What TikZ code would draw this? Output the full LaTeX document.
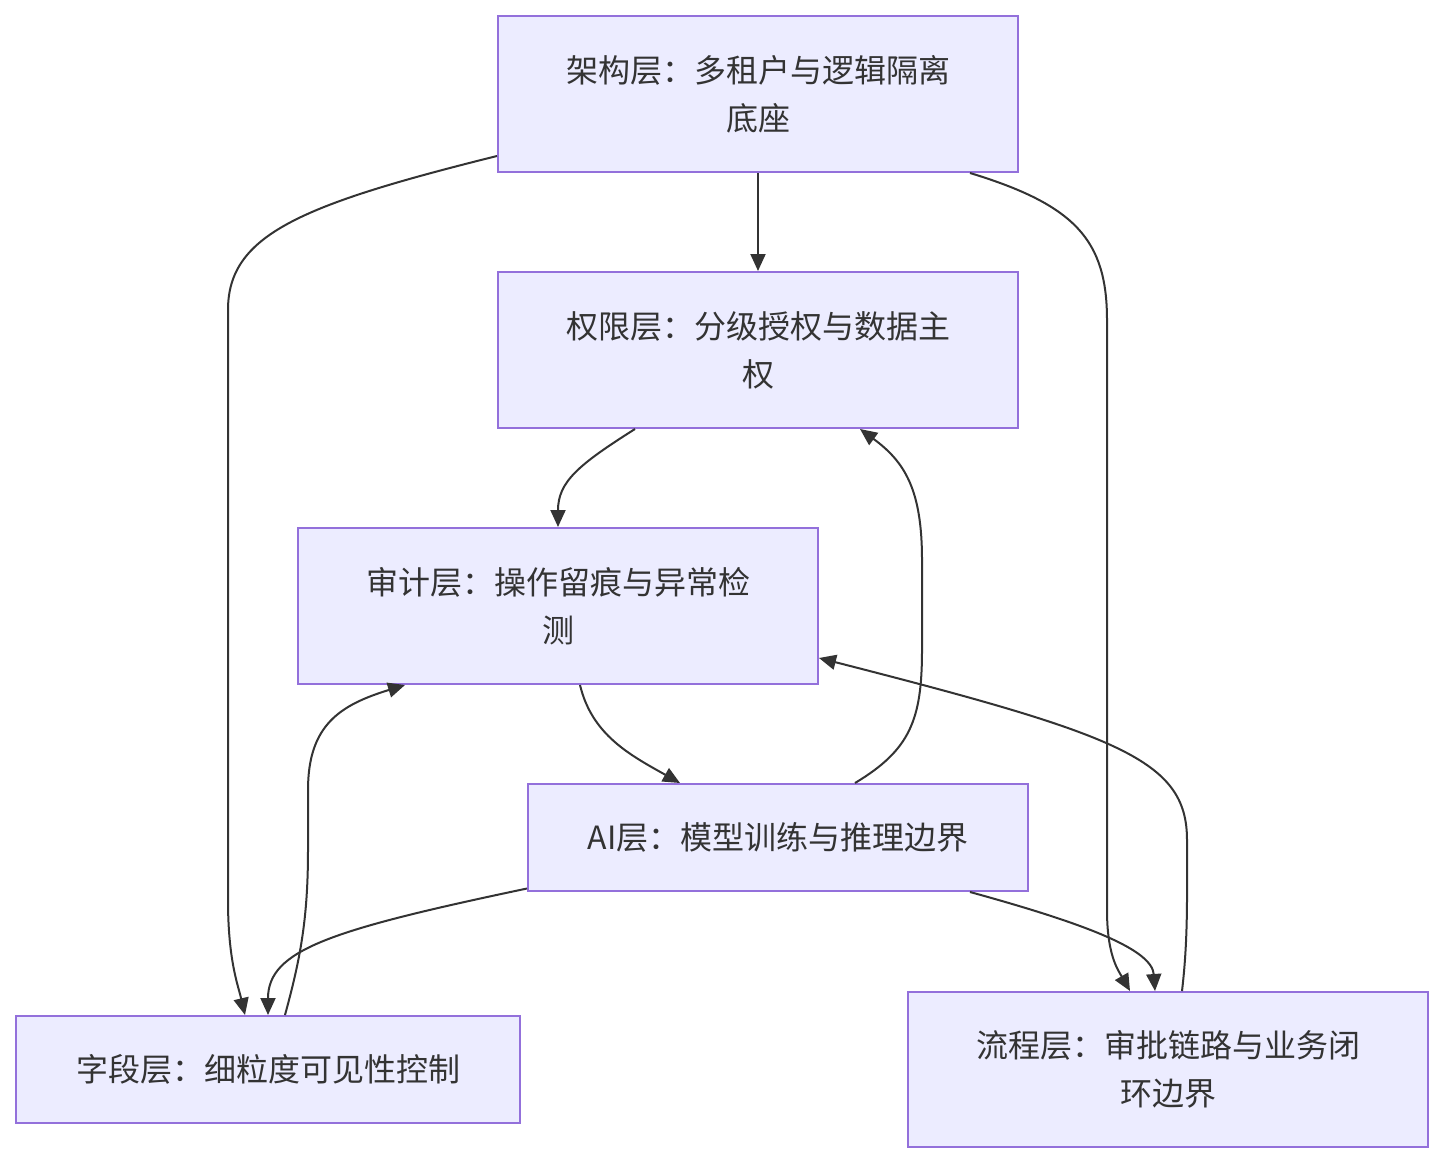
\documentclass[tikz,border=0pt]{standalone}
\usepackage{fontspec}
\setmainfont{Noto Sans CJK SC}
\usetikzlibrary{arrows.meta}
\definecolor{boxfill}{HTML}{ECECFF}
\definecolor{boxline}{HTML}{9370DB}
\definecolor{ink}{HTML}{333333}
\tikzset{
  layer/.style={draw=boxline, fill=boxfill, line width=2pt, align=center,
    text=ink, inner sep=0pt,
    font=\fontsize{32pt}{48pt}\selectfont},
  link/.style={draw=ink, line width=2pt,
    -{Triangle[length=17pt,width=15pt]}}
}
\begin{document}
\begin{tikzpicture}[x=1pt,y=-1pt]
\useasboundingbox (0,0) rectangle (1443,1164);
\node[layer, minimum width=520pt, minimum height=156pt] (A) at (758,94) {架构层：多租户与逻辑隔离\\底座};
\node[layer, minimum width=520pt, minimum height=156pt] (B) at (758,350) {权限层：分级授权与数据主\\权};
\node[layer, minimum width=520pt, minimum height=156pt] (C) at (558,606) {审计层：操作留痕与异常检\\测};
\node[layer, minimum width=500pt, minimum height=107pt] (D) at (778,837.5) {AI层：模型训练与推理边界};
\node[layer, minimum width=504pt, minimum height=107pt] (E) at (268,1069.5) {字段层：细粒度可见性控制};
\node[layer, minimum width=520pt, minimum height=155pt] (F) at (1168,1069.5) {流程层：审批链路与业务闭\\环边界};

% A -> B
\draw[link] (A.south) -- (B.north);
% A -> E
\draw[link] ([yshift=-62pt]A.west) .. controls (300,205) and (228,235) .. (228,310)
  -- (228,900) .. controls (228,960) and (238,985) .. ([xshift=-23pt]E.north);
% A -> F
\draw[link] ([xshift=212pt]A.south) .. controls (1075,205) and (1107,240) .. (1107,320)
  -- (1107,910) .. controls (1107,955) and (1118,970) .. ([xshift=-38pt]F.north);
% B -> C
\draw[link] ([xshift=-123pt]B.south) .. controls (578,465) and (558,482) .. (C.north);
% C -> D
\draw[link] ([xshift=22pt]C.south) .. controls (592,735) and (630,755) .. ([xshift=-98pt]D.north);
% D -> B
\draw[link] ([xshift=77pt]D.north) .. controls (910,750) and (922,720) .. (922,650)
  -- (922,560) .. controls (922,490) and (905,462) .. ([xshift=102pt]B.south);
% D -> E
\draw[link] ([yshift=-51pt]D.west) .. controls (330,930) and (268,950) .. (E.north);
% D -> F
\draw[link] ([xshift=192pt]D.south) .. controls (1090,925) and (1152,950) .. ([xshift=-13pt]F.north);
% E -> C
\draw[link] ([xshift=17pt]E.north) .. controls (300,960) and (308,920) .. (308,850)
  -- (308,790) .. controls (308,725) and (340,705) .. ([xshift=-153pt]C.south);
% F -> C
\draw[link] ([xshift=14pt]F.north) .. controls (1188,940) and (1187,900) .. (1187,840)
  .. controls (1187,760) and (1120,735) .. ([yshift=-52pt]C.east);
\end{tikzpicture}
\end{document}
